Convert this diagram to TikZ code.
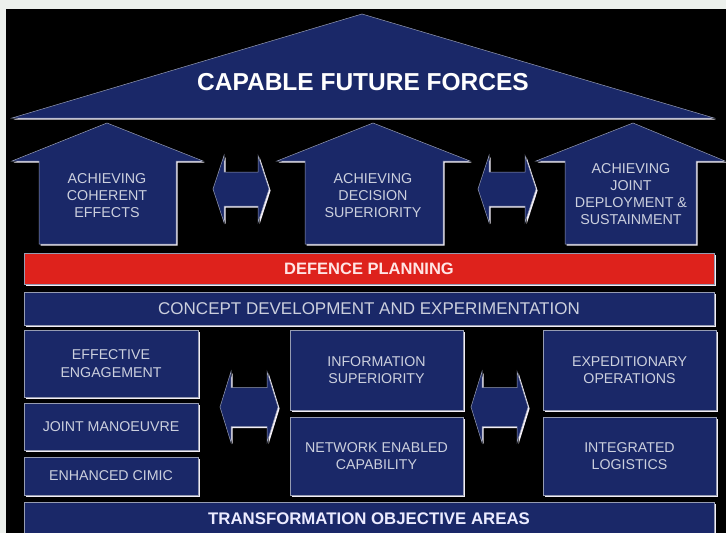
\documentclass[tikz,border=0pt]{standalone}
\usepackage{fontspec}
\setmainfont{Liberation Sans}
\definecolor{navy}{RGB}{26,40,104}
\definecolor{planred}{RGB}{222,34,28}
\definecolor{edge}{RGB}{150,156,178}
\definecolor{bevelwhite}{RGB}{242,238,246}
\definecolor{lighttext}{RGB}{204,208,222}
\definecolor{margin}{RGB}{236,240,236}

\begin{document}
\begin{tikzpicture}[x=1pt, y=-1pt,
    bevel/.style={preaction={fill=bevelwhite, transform canvas={xshift=1.6pt, yshift=-1.6pt}}},
    panel/.style={bevel, rectangle, fill=navy, draw=edge, line width=0.5pt, inner sep=0pt, align=center, text=lighttext, font=\fontsize{14.2}{17.5}\selectfont},
    housetext/.style={align=center, text=lighttext, font=\fontsize{14.3}{17}\selectfont}]
    \useasboundingbox (0,0) rectangle (726,533);
    \fill[margin] (0,0) rectangle (726,533);
    \fill[black] (6,9) rectangle (726,533);

    % Roof
    \filldraw[bevel, fill=navy, draw=edge, line width=0.5pt] (12,118) -- (362,14) -- (714,118) -- cycle;
    \node (capable) at (363,82) [text=white, font=\bfseries\fontsize{24.5}{28}\selectfont] {CAPABLE FUTURE FORCES};

    % Houses
    \foreach \rl/\ax/\rr/\bl/\br in {12/107/203/39/176, 277/373/470/305/443, 536/633/725/565/696}
        \filldraw[bevel, fill=navy, draw=edge, line width=0.5pt] (\rl,161) -- (\ax,123) -- (\rr,161) -- (\br,161) -- (\br,244) -- (\bl,244) -- (\bl,161) -- cycle;
    \node (coherent) at (107,196) [housetext] {ACHIEVING\\COHERENT\\EFFECTS};
    \node (decision) at (373,196) [housetext] {ACHIEVING\\DECISION\\SUPERIORITY};
    \node (deploy) at (631,194.5) [housetext] {ACHIEVING\\JOINT\\DEPLOYMENT \&\\SUSTAINMENT};

    % Double arrows
    \foreach \l/\r/\cy/\h/\t in {213/269/189/33.5/17, 478/536/189/33.5/17, 220/278/407/35.5/19.5, 471/528/407/35.5/19.5}
        \filldraw[bevel, fill=navy, draw=edge, line width=0.5pt] (\l,\cy) -- (\l+11,\cy-\h) -- (\l+11,\cy-\t) -- (\r-11,\cy-\t) -- (\r-11,\cy-\h) -- (\r,\cy) -- (\r-11,\cy+\h) -- (\r-11,\cy+\t) -- (\l+11,\cy+\t) -- (\l+11,\cy+\h) -- cycle;

    % Bars
    \node (planning) at (369,268.5) [panel, fill=planred, minimum width=690, minimum height=31, text=white!90!red, font=\bfseries\fontsize{16.5}{20}\selectfont] {DEFENCE PLANNING};
    \node (cde) at (369,308.5) [panel, minimum width=690, minimum height=33, font=\fontsize{17}{20}\selectfont] {CONCEPT DEVELOPMENT AND EXPERIMENTATION};

    % Objective areas
    \node (effeng) at (111,363.5) [panel, minimum width=174, minimum height=67] {EFFECTIVE\\ENGAGEMENT};
    \node (jointman) at (111,426.5) [panel, minimum width=174, minimum height=47] {JOINT MANOEUVRE};
    \node (cimic) at (111,476) [panel, minimum width=174, minimum height=38] {ENHANCED CIMIC};
    \node (infosup) at (376.5,370) [panel, minimum width=173, minimum height=80] {INFORMATION\\SUPERIORITY};
    \node (nec) at (376.5,456) [panel, minimum width=173, minimum height=78] {NETWORK ENABLED\\CAPABILITY};
    \node (expops) at (629.5,370) [panel, minimum width=173, minimum height=80] {EXPEDITIONARY\\OPERATIONS};
    \node (intlog) at (629.5,456) [panel, minimum width=173, minimum height=78] {INTEGRATED\\LOGISTICS};
    \node (toa) at (369,519) [panel, minimum width=690, minimum height=34, text=white!92!blue, font=\bfseries\fontsize{16.8}{20}\selectfont] {TRANSFORMATION OBJECTIVE AREAS};
\end{tikzpicture}
\end{document}
